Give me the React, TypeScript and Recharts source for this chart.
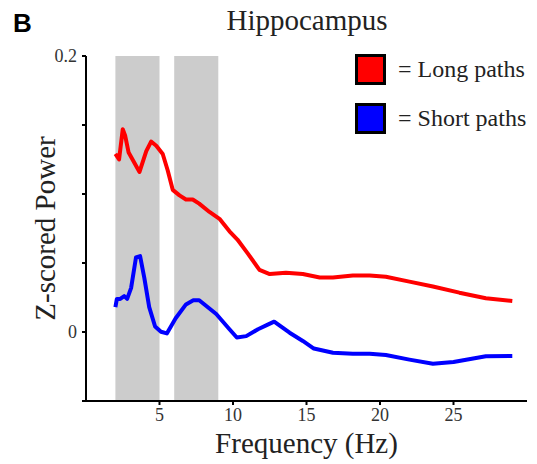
import { Line, LineChart, ReferenceArea, XAxis, YAxis } from 'recharts'

// frequency (Hz) / z-scored power
const longFreq = [2.0, 2.25, 2.5, 2.67, 2.9, 3.64, 4.1, 4.43, 4.78, 5.22, 5.56, 5.9, 6.36, 6.8, 7.26, 7.7, 8.4, 9.08, 9.76, 10.3, 11.0, 11.8, 12.5, 13.6, 14.75, 15.9, 16.8, 18.15, 19.3, 20.4, 22, 23.6, 25.4, 27.2, 29.0]
const longPower = [0.129, 0.125, 0.147, 0.142, 0.13, 0.116, 0.131, 0.138, 0.135, 0.129, 0.117, 0.103, 0.099, 0.096, 0.096, 0.093, 0.087, 0.082, 0.073, 0.067, 0.057, 0.045, 0.042, 0.043, 0.042, 0.0395, 0.0395, 0.041, 0.041, 0.04, 0.0365, 0.033, 0.0285, 0.0245, 0.0225]

const shortFreq = [2.0, 2.1, 2.33, 2.6, 2.8, 3.07, 3.4, 3.68, 3.97, 4.3, 4.7, 5.1, 5.5, 6.1, 6.8, 7.3, 7.7, 8.86, 9.76, 10.26, 10.9, 11.7, 12.4, 12.8, 13.85, 14.75, 15.5, 16.8, 18.15, 19.3, 20.4, 22, 23.6, 25, 27.2, 29]
const shortPower = [0.018, 0.024, 0.024, 0.026, 0.024, 0.032, 0.054, 0.055, 0.039, 0.018, 0.004, 0.0002, -0.001, 0.01, 0.02, 0.023, 0.023, 0.013, 0.002, -0.004, -0.003, 0.002, 0.0055, 0.0075, -0.0005, -0.0065, -0.012, -0.015, -0.0157, -0.0157, -0.0167, -0.02, -0.023, -0.0217, -0.0176, -0.0174]

const xTicks = [5, 10, 15, 20, 25]
const yTicks = [-0.05, 0, 0.05, 0.1, 0.15, 0.2]
const yLabelled = [0, 0.2]
const bandStarts = [2, 6]
const bandEnds = [5, 9]

const longData = longFreq.map((f, i) => ({ f, v: longPower[i] }))
const shortData = shortFreq.map((f, i) => ({ f, v: shortPower[i] }))

const series = [
  { name: 'Long paths', color: '#ff0000', data: longData },
  { name: 'Short paths', color: '#0000ff', data: shortData },
]

const serif = '"Liberation Serif", serif'

const XTick = ({ x, y, payload }: any) => (
  <text x={x} y={y + 12} textAnchor="middle" fill="#333" fontFamily={serif} fontSize={18}>
    {payload.value}
  </text>
)

const YTick = ({ x, y, payload }: any) =>
  yLabelled.includes(payload.value) ? (
    <text x={x} y={y + 6} textAnchor="end" fill="#333" fontFamily={serif} fontSize={18}>
      {payload.value}
    </text>
  ) : null

const LegendBox = () => (
  <div style={{ position: 'absolute', left: 355, top: 54, fontFamily: serif, fontSize: 24, color: '#222' }}>
    {series.map(s => (
      <div key={s.name} style={{ display: 'flex', alignItems: 'center', height: 31, marginBottom: 18 }}>
        <div style={{ width: 25, height: 25, background: s.color, border: '3px solid #000' }} />
        <span style={{ marginLeft: 12, whiteSpace: 'nowrap' }}>= {s.name}</span>
      </div>
    ))}
  </div>
)

export default function App() {
  return (
    <div style={{ position: 'absolute', left: 0, top: 0, width: 537, height: 464, background: '#fff' }}>
      <LineChart width={537} height={464} margin={{ top: 56, right: 10, bottom: 0, left: 0 }}>
        {bandStarts.map((s, i) => (
          <ReferenceArea key={s} x1={s} x2={bandEnds[i]} y1={-0.05} y2={0.2} fill="#cccccc" fillOpacity={1} stroke="none" />
        ))}
        <XAxis
          type="number"
          dataKey="f"
          domain={[0, 30]}
          ticks={xTicks}
          allowDuplicatedCategory={false}
          height={63}
          stroke="#000"
          strokeWidth={2}
          tickSize={4}
          tickMargin={4}
          tick={<XTick />}
          label={{ value: 'Frequency (Hz)', position: 'center', dy: 10, fill: '#222', fontFamily: serif, fontSize: 29 }}
        />
        <YAxis
          type="number"
          domain={[-0.05, 0.2]}
          ticks={yTicks}
          width={86}
          stroke="#000"
          strokeWidth={2}
          tickSize={4}
          tickMargin={5}
          tick={<YTick />}
          label={{ value: 'Z-scored Power', angle: -90, position: 'center', dx: 2, fill: '#222', fontFamily: serif, fontSize: 29 }}
        />
        {series.map(s => (
          <Line
            key={s.name}
            data={s.data}
            dataKey="v"
            name={s.name}
            type="linear"
            stroke={s.color}
            strokeWidth={4}
            strokeLinejoin="round"
            dot={false}
            isAnimationActive={false}
          />
        ))}
      </LineChart>
      <div style={{ position: 'absolute', left: 13, top: 10, fontFamily: '"Liberation Sans", Arial, sans-serif', fontWeight: 700, fontSize: 26, lineHeight: '26px' }}>B</div>
      <div style={{ position: 'absolute', left: 0, width: 614, top: 6, textAlign: 'center', fontFamily: serif, fontSize: 29, lineHeight: '29px', color: '#222' }}>Hippocampus</div>
      <LegendBox />
    </div>
  )
}
